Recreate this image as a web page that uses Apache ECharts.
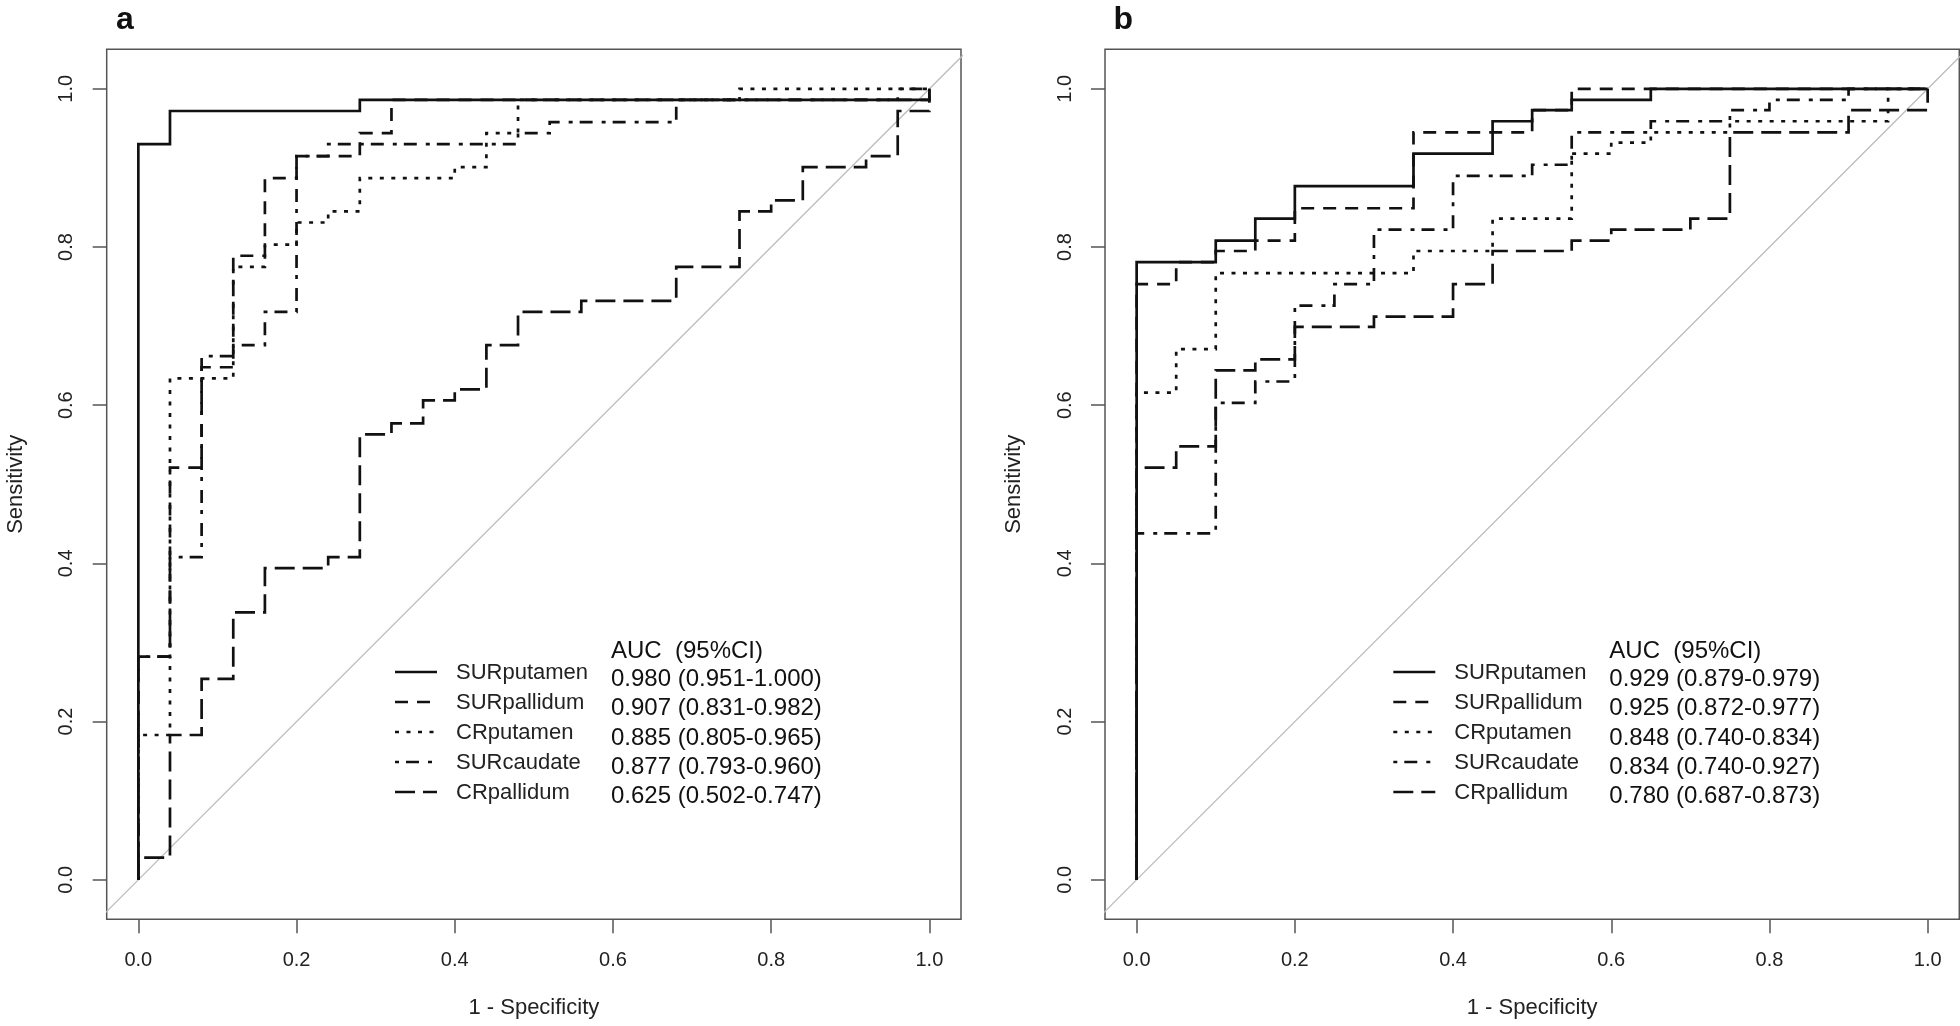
<!DOCTYPE html>
<html><head><meta charset="utf-8">
<script src="https://cdn.jsdelivr.net/npm/echarts@6/dist/echarts.min.js"></script>
<style>html,body{margin:0;padding:0;background:#fff}#c{width:1960px;height:1026px}</style>
</head><body><div id="c"></div>
<script>
// ---------- data ----------
const curveNames = ['SURputamen', 'SURpallidum', 'CRputamen', 'SURcaudate', 'CRpallidum'];
const tickValues = [0, 0.2, 0.4, 0.6, 0.8, 1.0];
const panelLetters = ['a', 'b'];
const xTitle = '1 - Specificity';
const yTitle = 'Sensitivity';
const aucHeader = 'AUC  (95%CI)';
const diagonal = [-0.1, 1.1];

// panel a : points where each ROC step rises (1 - specificity, sensitivity)
const aucA = ['0.980 (0.951-1.000)', '0.907 (0.831-0.982)', '0.885 (0.805-0.965)', '0.877 (0.793-0.960)', '0.625 (0.502-0.747)'];
const a_SURputamen_x = [0, 0, 0.04, 0.28, 1.00];
const a_SURputamen_y = [0, 0.930, 0.972, 0.986, 1.000];
const a_SURpallidum_x = [0, 0, 0.04, 0.08, 0.12, 0.16, 0.20, 0.28, 0.32, 1.00];
const a_SURpallidum_y = [0, 0.282, 0.521, 0.648, 0.789, 0.887, 0.915, 0.944, 0.986, 1.000];
const a_CRputamen_x = [0, 0, 0.04, 0.12, 0.16, 0.20, 0.24, 0.28, 0.40, 0.44, 0.48, 0.76, 1.00];
const a_CRputamen_y = [0, 0.183, 0.634, 0.775, 0.803, 0.831, 0.845, 0.887, 0.901, 0.944, 0.986, 1.000, 1.000];
const a_SURcaudate_x = [0, 0, 0.04, 0.08, 0.12, 0.16, 0.20, 0.24, 0.48, 0.52, 0.68, 0.96, 1.00];
const a_SURcaudate_y = [0, 0.282, 0.408, 0.662, 0.676, 0.718, 0.915, 0.930, 0.944, 0.958, 0.986, 1.000, 1.000];
const a_CRpallidum_x = [0, 0, 0.04, 0.08, 0.12, 0.16, 0.24, 0.28, 0.32, 0.36, 0.40, 0.44, 0.48, 0.56, 0.68, 0.76, 0.80, 0.84, 0.92, 0.96, 1.00];
const a_CRpallidum_y = [0, 0.028, 0.183, 0.254, 0.338, 0.394, 0.408, 0.563, 0.577, 0.606, 0.620, 0.676, 0.718, 0.732, 0.775, 0.845, 0.859, 0.901, 0.915, 0.972, 1.000];

// panel b
const aucB = ['0.929 (0.879-0.979)', '0.925 (0.872-0.977)', '0.848 (0.740-0.834)', '0.834 (0.740-0.927)', '0.780 (0.687-0.873)'];
const b_SURputamen_x = [0, 0, 0.10, 0.15, 0.20, 0.35, 0.45, 0.50, 0.55, 0.65, 1.00];
const b_SURputamen_y = [0, 0.781, 0.808, 0.836, 0.877, 0.918, 0.959, 0.973, 0.986, 1.000, 1.000];
const b_SURpallidum_x = [0, 0, 0.05, 0.10, 0.15, 0.20, 0.35, 0.50, 0.55, 1.00];
const b_SURpallidum_y = [0, 0.753, 0.781, 0.795, 0.808, 0.849, 0.945, 0.973, 1.000, 1.000];
const b_CRputamen_x = [0, 0, 0.05, 0.10, 0.35, 0.45, 0.55, 0.60, 0.65, 0.75, 0.95, 1.00];
const b_CRputamen_y = [0, 0.616, 0.671, 0.767, 0.795, 0.836, 0.918, 0.932, 0.945, 0.959, 1.000, 1.000];
const b_SURcaudate_x = [0, 0, 0.10, 0.15, 0.20, 0.25, 0.30, 0.40, 0.50, 0.55, 0.65, 0.75, 0.80, 0.90, 1.00];
const b_SURcaudate_y = [0, 0.438, 0.603, 0.630, 0.726, 0.753, 0.822, 0.890, 0.904, 0.945, 0.959, 0.973, 0.986, 1.000, 1.000];
const b_CRpallidum_x = [0, 0, 0.05, 0.10, 0.15, 0.20, 0.30, 0.40, 0.45, 0.55, 0.60, 0.70, 0.75, 0.90, 1.00];
const b_CRpallidum_y = [0, 0.521, 0.548, 0.644, 0.658, 0.699, 0.712, 0.753, 0.795, 0.808, 0.822, 0.836, 0.945, 0.973, 1.000];

// ---------- styles ----------
const FONT = '"Liberation Sans", Arial, Helvetica, sans-serif';
const INK = '#111';
const BOX = '#555';
const dashes = ['solid', [13, 9], [4, 7.5], [4, 7, 13, 9], [20, 8]];
const LW = 2.7;

const panels = [
  { x: [a_SURputamen_x, a_SURpallidum_x, a_CRputamen_x, a_SURcaudate_x, a_CRpallidum_x],
    y: [a_SURputamen_y, a_SURpallidum_y, a_CRputamen_y, a_SURcaudate_y, a_CRpallidum_y], auc: aucA },
  { x: [b_SURputamen_x, b_SURpallidum_x, b_CRputamen_x, b_SURcaudate_x, b_CRpallidum_x],
    y: [b_SURputamen_y, b_SURpallidum_y, b_CRputamen_y, b_SURcaudate_y, b_CRpallidum_y], auc: aucB }
];

const gridLeft = [106.7, 1105];
const gridTop = 49.3, gridW = 854.3, gridH = 870;

const grids = [], xAxes = [], yAxes = [], series = [], graphics = [];

panels.forEach((p, pi) => {
  grids.push({ left: gridLeft[pi], top: gridTop, width: gridW, height: gridH,
    show: true, borderColor: BOX, borderWidth: 1.5, backgroundColor: 'transparent', containLabel: false });
  xAxes.push({ type: 'value', gridIndex: pi, min: -0.04, max: 1.04, position: 'bottom',
    name: xTitle, nameLocation: 'middle', nameGap: 78,
    nameTextStyle: { fontFamily: FONT, fontSize: 22, color: '#222' },
    axisLine: { show: false, onZero: false },
    axisTick: { show: true, inside: false, customValues: tickValues, length: 14, lineStyle: { color: BOX, width: 1.5 } },
    axisLabel: { show: true, customValues: tickValues, margin: 31, fontFamily: FONT, fontSize: 20, color: '#222',
      formatter: v => v.toFixed(1) },
    splitLine: { show: false } });
  yAxes.push({ type: 'value', gridIndex: pi, min: -0.05, max: 1.05, position: 'left',
    name: yTitle, nameLocation: 'middle', nameGap: 80, nameRotate: 90,
    nameTextStyle: { fontFamily: FONT, fontSize: 22, color: '#222' },
    axisLine: { show: false, onZero: false },
    axisTick: { show: true, inside: false, customValues: tickValues, length: 14, lineStyle: { color: BOX, width: 1.5 } },
    axisLabel: { show: true, customValues: tickValues, rotate: 90, margin: 30, fontFamily: FONT, fontSize: 20, color: '#222',
      formatter: v => v.toFixed(1) },
    splitLine: { show: false } });

  series.push({ type: 'line', name: 'diagonal', xAxisIndex: pi, yAxisIndex: pi,
    data: [[diagonal[0], diagonal[0]], [diagonal[1], diagonal[1]]],
    symbol: 'none', silent: true, clip: true, z: 1,
    lineStyle: { color: '#bdbdbd', width: 1.3 } });

  curveNames.forEach((n, ci) => {
    const xs = p.x[ci], ys = p.y[ci];
    series.push({ type: 'line', name: n, xAxisIndex: pi, yAxisIndex: pi,
      data: xs.map((v, k) => [v, ys[k]]),
      step: 'end', symbol: 'none', showSymbol: false, silent: true, clip: true, z: 3,
      lineStyle: { color: INK, width: LW, type: dashes[ci], cap: 'butt', join: 'miter' } });
  });

  // legend block (lines + names + AUC text)
  const dx = gridLeft[pi] - gridLeft[0];
  curveNames.forEach((n, ci) => {
    const y = 672 + 30 * ci;
    graphics.push({ type: 'line', silent: true, shape: { x1: 395 + dx, y1: y, x2: 437 + dx, y2: y },
      style: { stroke: INK, lineWidth: LW, lineDash: dashes[ci] === 'solid' ? null : dashes[ci] } });
    graphics.push({ type: 'text', silent: true, x: 456 + dx, y: y + 1,
      style: { text: n, fontFamily: FONT, fontSize: 22, fill: '#222', align: 'left', verticalAlign: 'middle' } });
    graphics.push({ type: 'text', silent: true, x: 611 + dx, y: 679.5 + 29.3 * ci,
      style: { text: p.auc[ci], fontFamily: FONT, fontSize: 24, fill: INK, align: 'left', verticalAlign: 'middle' } });
  });
  graphics.push({ type: 'text', silent: true, x: 611 + dx, y: 651,
    style: { text: aucHeader, fontFamily: FONT, fontSize: 24, fill: INK, align: 'left', verticalAlign: 'middle' } });
  graphics.push({ type: 'text', silent: true, x: 125 + dx, y: 20,
    style: { text: panelLetters[pi], fontFamily: FONT, fontSize: 32, fontWeight: 'bold', fill: INK, align: 'center', verticalAlign: 'middle' } });
});

const chart = echarts.init(document.getElementById('c'), null, { renderer: 'canvas', width: 1960, height: 1026 });
chart.setOption({
  animation: false,
  backgroundColor: '#fff',
  grid: grids, xAxis: xAxes, yAxis: yAxes, series: series, graphic: graphics
});
</script></body></html>
